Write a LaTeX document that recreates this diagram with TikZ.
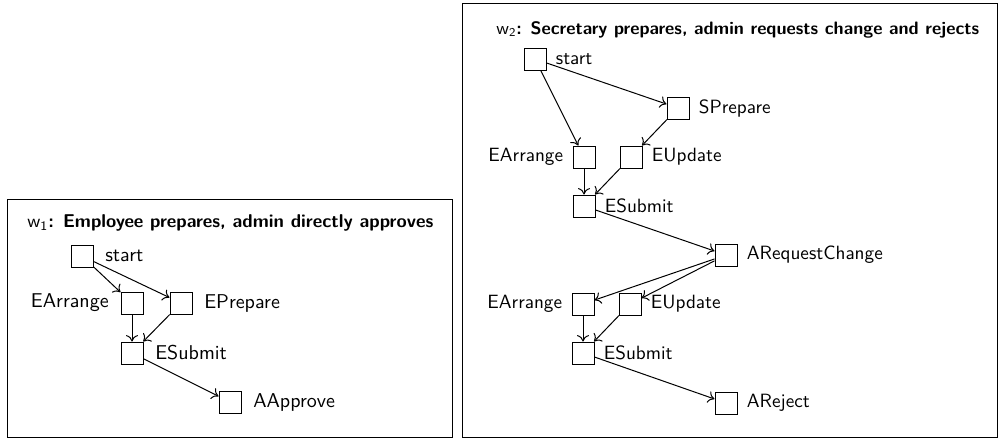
\documentclass[tikz,border=0pt]{standalone}
\usepackage{fontspec}
\usetikzlibrary{arrows.meta}
\renewcommand{\familydefault}{\sfdefault}
\begin{document}
\begin{tikzpicture}[x=0.5pt,y=-0.5pt,
  state/.style={draw,line width=0.5pt,minimum width=11pt,minimum height=11pt,inner sep=0pt},
  frame/.style={draw,line width=0.6pt},
  flow/.style={-{To[length=3.2pt,width=6pt]},line width=0.5pt},
  lab/.style={inner sep=0pt},
  title/.style={anchor=west,inner sep=0pt,font=\fontsize{9.27}{11}\selectfont}]
\useasboundingbox (0,0) rectangle (1001,440);

% --- first run: w1 ---
\node[frame,minimum width=222.5pt,minimum height=119pt,anchor=north west,inner sep=0pt] (f1) at (7,199) {};
\begin{scope}[every label/.style={lab,font=\fontsize{10}{12}\selectfont},label distance=5.7pt]
\node[title] (t1) at (27,223) {w\textsubscript{1}\textbf{: Employee prepares, admin directly approves}};
\node[state,label=right:start]    (a0) at (82,256) {};
\node[state,label=left:EArrange]  (a1) at (132,303) {};
\node[state,label=right:EPrepare] (a2) at (181,303) {};
\node[state,label=right:ESubmit]  (a3) at (132,353) {};
\node[state,label=right:AApprove] (a4) at (230,402) {};
\end{scope}
\draw[flow] (a0) -- (a1);
\draw[flow] (a0) -- (a2);
\draw[flow] (a1) -- (a3);
\draw[flow] (a2) -- (a3);
\draw[flow] (a3) -- (a4);

% --- second run: w2 ---
\node[frame,minimum width=267.5pt,minimum height=217pt,anchor=north west,inner sep=0pt] (f2) at (462,3) {};
\begin{scope}[every label/.style={lab,font=\fontsize{9.6}{11.5}\selectfont},label distance=4.5pt]
\node[title,font=\fontsize{9.0}{11}\selectfont] (t2) at (496,30) {w\textsubscript{2}\textbf{: Secretary prepares, admin requests change and rejects}};
\node[state,label=right:start]          (b0) at (535,59) {};
\node[state,label=right:SPrepare]       (b1) at (678,108) {};
\node[state,label=left:EArrange]        (b2) at (584,157) {};
\node[state,label=right:EUpdate]        (b3) at (631,157) {};
\node[state,label=right:ESubmit]        (b4) at (584,206) {};
\node[state,label=right:ARequestChange] (b5) at (726,255) {};
\node[state,label=left:EArrange]        (b6) at (583,304) {};
\node[state,label=right:EUpdate]        (b7) at (630,304) {};
\node[state,label=right:ESubmit]        (b8) at (583,353) {};
\node[state,label=right:AReject]        (b9) at (726,403) {};
\end{scope}
\draw[flow] (b0) -- (b1);
\draw[flow] (b0) -- (b2);
\draw[flow] (b1) -- (b3);
\draw[flow] (b2) -- (b4);
\draw[flow] (b3) -- (b4);
\draw[flow] (b4) -- (b5);
\draw[flow] (b5) -- (b6);
\draw[flow] (b5) -- (b7);
\draw[flow] (b6) -- (b8);
\draw[flow] (b7) -- (b8);
\draw[flow] (b8) -- (b9);
\end{tikzpicture}
\end{document}
